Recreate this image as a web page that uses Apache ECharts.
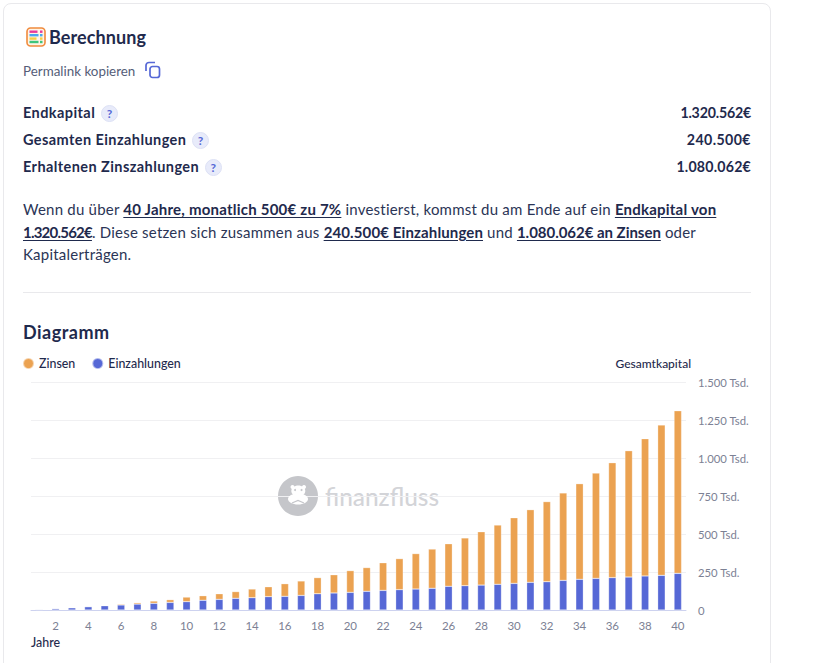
<!DOCTYPE html>
<html lang="de">
<head>
<meta charset="utf-8">
<title>Berechnung</title>
<script src="https://cdn.jsdelivr.net/npm/echarts@6/dist/echarts.min.js"></script>
<style>
  html, body { margin: 0; padding: 0; background: #fff; }
  body { width: 819px; height: 663px; position: relative; overflow: hidden; font-family: Lato, sans-serif; color: #1f2a4d; }
  .card { position: absolute; left: 3px; top: 3px; width: 768px; height: 700px; border: 1px solid #e9e9ec; border-radius: 8px; box-sizing: border-box; }
  .abs { position: absolute; white-space: nowrap; line-height: 20px; }
  h2 { margin: 0; font-size: 18px; font-weight: 700; }
  .row { font-size: 14.5px; font-weight: 700; letter-spacing: .42px; }
  .val { right: 68px; font-size: 14.2px; font-weight: 700; }
  .q { display: inline-block; width: 17px; height: 17px; line-height: 15px; border-radius: 50%; background: #e8ebfa; border: 1px solid #dde1f5; color: #5668d6; font-size: 12px; text-align: center; margin-left: 2px; vertical-align: 0; box-sizing: border-box; }
  .para { left: 23px; top: 198px; font-size: 15px; line-height: 22.5px; color: #2b3556; letter-spacing: .22px; }
  .para b { text-decoration: underline; color: #1f2a4d; text-underline-offset: 2px; }
  .rule { position: absolute; left: 23px; top: 292px; width: 728px; height: 1px; background: #e9e9ec; }
  #chart { position: absolute; left: 0; top: 340px; width: 819px; height: 323px; }
</style>
</head>
<body>
<div class="card"></div>
<svg class="abs" style="left:26px;top:27px" width="20" height="20" viewBox="0 0 20 20">
  <rect x="1" y="1" width="18" height="18" rx="3.5" fill="#fff4e6" stroke="#f08a3c" stroke-width="1.6"/>
  <rect x="3.5" y="3.5" width="8" height="2.4" fill="#e8399a"/><rect x="14" y="3.5" width="2.5" height="2.4" fill="#e8399a"/>
  <rect x="3.5" y="7" width="9" height="2.4" fill="#4aa8ee"/><rect x="14" y="7" width="2.5" height="2.4" fill="#4aa8ee"/>
  <rect x="3.5" y="10.4" width="7" height="2.4" fill="#f6cf45"/><rect x="14" y="10.4" width="2.5" height="2.4" fill="#f6cf45"/>
  <rect x="3.5" y="13.8" width="9" height="2.4" fill="#3fc47a"/><rect x="14" y="13.8" width="2.5" height="2.4" fill="#3fc47a"/>
</svg>
<h2 class="abs" style="left:49px;top:27px;letter-spacing:.1px">Berechnung</h2>
<div class="abs" style="left:23px;top:61px;font-size:13.4px;color:#555d78">Permalink kopieren</div>
<svg class="abs" style="left:144px;top:61px" width="18" height="18" viewBox="0 0 18 18" fill="none" stroke="#5668d6" stroke-width="1.7">
  <rect x="6" y="5.5" width="9.5" height="11" rx="2.5"/>
  <path d="M2 10V4.5A3 3 0 0 1 5 1.5h6"/>
</svg>
<div class="abs row" style="left:23px;top:103px">Endkapital <span class="q">?</span></div>
<div class="abs row" style="left:23px;top:130px">Gesamten Einzahlungen <span class="q">?</span></div>
<div class="abs row" style="left:23px;top:157px">Erhaltenen Zinszahlungen <span class="q">?</span></div>
<div class="abs val" style="top:103px;letter-spacing:-.2px">1.320.562€</div>
<div class="abs val" style="top:130px;letter-spacing:.4px">240.500€</div>
<div class="abs val" style="top:157px;letter-spacing:.2px">1.080.062€</div>
<div class="abs para">Wenn du über <b>40 Jahre, monatlich 500€ zu 7%</b> investierst, kommst du am Ende auf ein <b>Endkapital von</b><br><b style="letter-spacing:-.78px">1.320.562€</b>. Diese setzen sich zusammen aus <b style="letter-spacing:.12px">240.500€ Einzahlungen</b> und <b style="letter-spacing:-.03px">1.080.062€ an Zinsen</b> oder<br>Kapitalerträgen.</div>
<div class="rule"></div>
<h2 class="abs" style="left:23px;top:322px;letter-spacing:.5px">Diagramm</h2>
<div id="chart"></div>
<script>
const jahre = [];
for (let i = 1; i <= 40; i++) jahre.push(String(i));

// in Tsd.
const einzahlungen = [4, 9, 15, 22, 28, 33, 39, 44, 50, 55, 64, 70, 77, 81, 88, 90, 96, 107, 112, 116,
  123, 129, 134, 138, 143, 156, 160, 164, 169, 175, 182, 186, 195, 202, 208, 213, 217, 224, 228, 241];
const zinsen = [0, 0, 0, 0, 3, 6, 9, 15, 18, 30, 30, 37, 44, 57, 65, 83, 95, 106, 120, 143,
  156, 182, 204, 233, 258, 280, 314, 351, 390, 432, 478, 527, 575, 629, 693, 756, 831, 903, 989, 1070];
const yTicks = [0, 250, 500, 750, 1000, 1250, 1500];
const yLabels = ['0', '250 Tsd.', '500 Tsd.', '750 Tsd.', '1.000 Tsd.', '1.250 Tsd.', '1.500 Tsd.'];

const textFont = 'Lato, sans-serif';
const chart = echarts.init(document.getElementById('chart'), null, { renderer: 'svg' });

chart.setOption({
  animation: false,
  legend: {
    left: 17, top: 12,
    icon: 'circle',
    itemWidth: 11, itemHeight: 11, itemGap: 16,
    selectedMode: false,
    textStyle: { color: '#1f2a4d', fontFamily: textFont, fontSize: 12.4, fontWeight: 500 },
    data: ['Zinsen', 'Einzahlungen']
  },
  grid: { left: 31, right: 133, top: 42, bottom: 53 },
  xAxis: {
    type: 'category',
    data: jahre,
    axisTick: { show: false },
    axisLine: { lineStyle: { color: '#cdd2ef', width: 1 } },
    axisLabel: {
      color: '#7c8194', fontFamily: textFont, fontSize: 11.5, margin: 9,
      interval: (i) => (i + 1) % 2 === 0
    }
  },
  yAxis: {
    type: 'value',
    position: 'right',
    min: 0, max: 1500, interval: 250,
    axisLine: { show: false },
    axisTick: { show: false },
    splitLine: { lineStyle: { color: '#f0f0f2', width: 1 } },
    axisLabel: {
      color: '#7c8194', fontFamily: textFont, fontSize: 11.3, margin: 12,
      formatter: (v) => yLabels[yTicks.indexOf(v)]
    }
  },
  graphic: [
    { type: 'circle', shape: { cx: 298, cy: 156, r: 20 }, style: { fill: '#c5c6ca' }, z: 0 },
    // hippo head of the watermark
    { type: 'circle', shape: { cx: 292.5, cy: 147, r: 2 }, style: { fill: '#fff' }, z: 1 },
    { type: 'circle', shape: { cx: 304, cy: 147, r: 2 }, style: { fill: '#fff' }, z: 1 },
    { type: 'ellipse', shape: { cx: 298.3, cy: 151, rx: 7, ry: 5.5 }, style: { fill: '#fff' }, z: 1 },
    { type: 'ellipse', shape: { cx: 298, cy: 159, rx: 10, ry: 5.5 }, style: { fill: '#fff' }, z: 1 },
    { type: 'circle', shape: { cx: 295, cy: 150, r: 1 }, style: { fill: '#c5c6ca' }, z: 2 },
    { type: 'circle', shape: { cx: 301.5, cy: 150, r: 1 }, style: { fill: '#c5c6ca' }, z: 2 },
    { type: 'polyline', shape: { points: [[292, 163], [298, 160.5], [304, 163]] }, style: { stroke: '#c5c6ca', lineWidth: 1.2, fill: 'none' }, z: 2 },
    { type: 'text', x: 325, y: 144, z: 0,
      style: { text: 'finanzfluss', fill: '#d3d4d8', font: '500 24.4px ' + textFont } },
    { type: 'text', x: 691, y: 17,
      style: { text: 'Gesamtkapital', fill: '#1f2a4d', font: '500 12px ' + textFont, align: 'right' } },
    { type: 'text', x: 31, y: 296,
      style: { text: 'Jahre', fill: '#1f2a4d', font: '500 12.4px ' + textFont } }
  ],
  series: [
    { name: 'Einzahlungen', type: 'bar', stack: 'kapital', data: einzahlungen, barWidth: 7.5, z: 3,
      itemStyle: { color: '#5668d6', borderColor: 'rgba(255,255,255,.55)', borderWidth: 0.5 } },
    { name: 'Zinsen', type: 'bar', stack: 'kapital', data: zinsen, barWidth: 7.5, z: 3,
      itemStyle: { color: '#eba251', borderColor: 'rgba(255,255,255,.55)', borderWidth: 0.5 } }
  ]
});
</script>
</body>
</html>
